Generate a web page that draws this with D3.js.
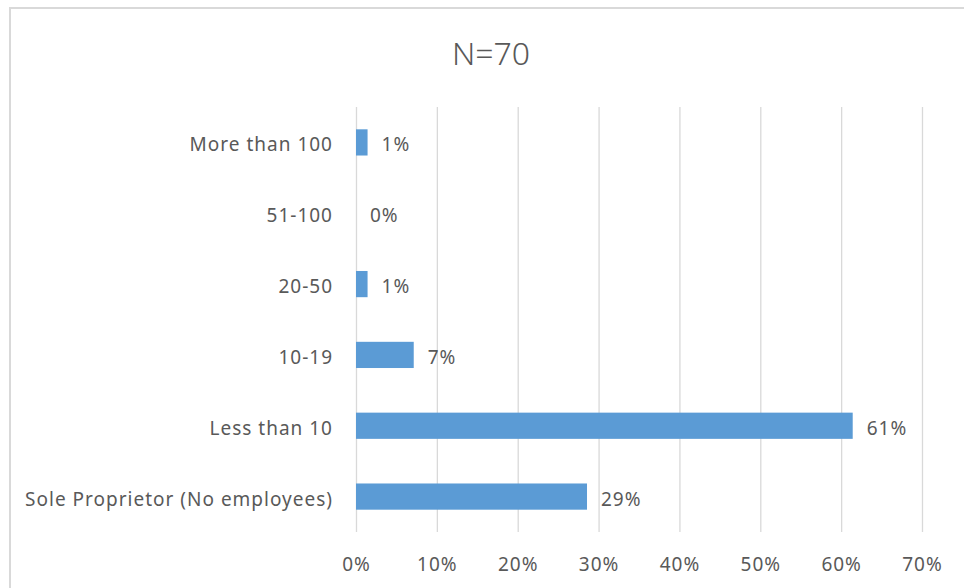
<!DOCTYPE html>
<html>
<head>
<meta charset="utf-8">
<script src="https://cdn.jsdelivr.net/npm/d3@7"></script>
<style>
  html, body { margin: 0; padding: 0; background: #fff; }
  svg { display: block; }
  text { font-family: "Noto Sans", "Open Sans", sans-serif; fill: #595959; }
</style>
</head>
<body>
<svg id="chart" width="964" height="588"></svg>
<script>
const title = "N=70";
const categories = ["More than 100", "51-100", "20-50", "10-19", "Less than 10", "Sole Proprietor (No employees)"];
const values = [1.43, 0, 1.43, 7.14, 61.43, 28.57];
const tickValues = [0, 10, 20, 30, 40, 50, 60, 70];

const svg = d3.select("#chart");
const W = 964, H = 588;
const plot = { left: 356, right: 922, top: 107, bottom: 532 };
const FS = "19px", LS = "1px";

// frame
svg.append("rect")
  .attr("x", 10).attr("y", 8)
  .attr("width", W + 20).attr("height", H + 20)
  .attr("fill", "#fff")
  .attr("stroke", "#d9d9d9").attr("stroke-width", 2);

// title
svg.append("text")
  .attr("x", 491).attr("y", 65)
  .attr("text-anchor", "middle")
  .style("font-size", "32px")
  .style("font-weight", 300)
  .text(title);

const x = d3.scaleLinear().domain([0, 70]).range([plot.left, plot.right]);
const y = d3.scaleBand().domain(categories).range([plot.top, plot.bottom])
  .paddingInner(0.63).paddingOuter(0.315);

// gridlines + tick labels via axis
const axis = d3.axisBottom(x)
  .tickValues(tickValues)
  .tickSize(-(plot.bottom - plot.top))
  .tickFormat(d => d + "%");
const ag = svg.append("g")
  .attr("transform", `translate(0,${plot.bottom})`)
  .call(axis);
ag.select(".domain").remove();
ag.selectAll(".tick line").attr("stroke", "#d9d9d9").attr("stroke-width", 1.3);
ag.selectAll(".tick text")
  .attr("y", 39).attr("dy", 0)
  .attr("fill", "#595959")
  .style("font-size", FS)
  .style("letter-spacing", LS)
  .style("font-family", "'Noto Sans', 'Open Sans', sans-serif");

// bars
svg.append("g").selectAll("rect")
  .data(categories)
  .join("rect")
  .attr("x", x(0))
  .attr("y", (d) => y(d))
  .attr("width", (d, i) => x(values[i]) - x(0))
  .attr("height", y.bandwidth())
  .attr("fill", "#5b9bd5");

// category labels
svg.append("g").selectAll("text")
  .data(categories)
  .join("text")
  .attr("x", 333)
  .attr("y", d => y(d) + y.bandwidth() / 2 + 9)
  .attr("text-anchor", "end")
  .style("font-size", FS)
  .style("letter-spacing", LS)
  .text(d => d);

// value labels
svg.append("g").selectAll("text")
  .data(categories)
  .join("text")
  .attr("x", (d, i) => x(values[i]) + 14)
  .attr("y", d => y(d) + y.bandwidth() / 2 + 9)
  .style("font-size", FS)
  .style("letter-spacing", LS)
  .text((d, i) => Math.round(values[i]) + "%");
</script>
</body>
</html>
